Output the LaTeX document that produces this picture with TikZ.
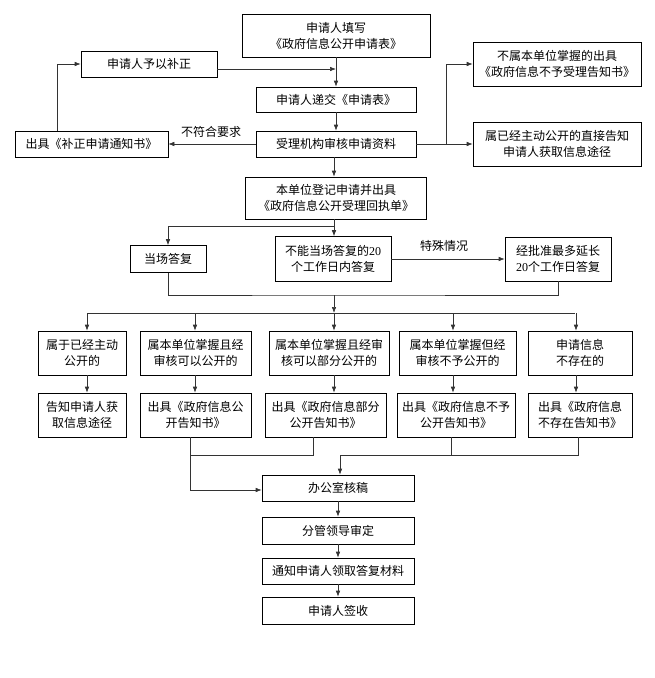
\documentclass[tikz,border=0pt]{standalone}
\usepackage{fontspec}
\setmainfont{Noto Sans CJK SC}
\newfontfamily\numfont{Liberation Serif}
\usetikzlibrary{arrows.meta}
\tikzset{%
  >={Latex[width=4.5pt,length=6pt]},
            base/.style = {rectangle, draw=black, line width=0.6pt, inner sep=1pt,
                           text centered, align=center,
                           font=\fontsize{12pt}{16pt}\selectfont},
  box1/.style = {base, minimum height=26pt},
  box2/.style = {base, minimum height=44pt},
  line/.style = {draw=black!80, line width=0.6pt},
  note/.style = {font=\fontsize{12pt}{14pt}\selectfont},
}

\begin{document}
\begin{tikzpicture}[x=1pt, y=-1pt]
  \useasboundingbox (0,0) rectangle (654,678);

  \node (onFill)     [box2, minimum width=188pt, minimum height=43pt] at (336,35.5)
  {申请人填写\\《政府信息公开申请表》};
  \node (onSupply)   [box1, minimum width=136pt]  at (149,64)    {申请人予以补正};
  \node (onSubmit)   [box1, minimum width=160pt, minimum height=25pt] at (336,99.5) {申请人递交《申请表》};
  \node (onCheck)    [box1, minimum width=160pt]  at (336,144)   {受理机构审核申请资料};
  \node (onNotice)   [box1, minimum width=153pt]  at (91.5,144)  {出具《补正申请通知书》};
  \node (onRefuse)   [box2, minimum width=168pt]  at (557,64)
  {不属本单位掌握的出具\\《政府信息不予受理告知书》};
  \node (onPublic)   [box2, minimum width=168pt]  at (557,144)
  {属已经主动公开的直接告知\\申请人获取信息途径};
  \node (onRegister) [box2, minimum width=181pt, minimum height=42pt] at (336,198)
  {本单位登记申请并出具\\《政府信息公开受理回执单》};

  \node (onSpot)     [box1, minimum width=76pt, minimum height=27pt] at (168,259) {当场答复};
  \node (onDelay)    [box2, minimum width=116pt, minimum height=45pt] at (333,259)
  {不能当场答复的{\numfont 20}\\个工作日内答复};
  \node (onExtend)   [box2, minimum width=106pt]  at (558,259)
  {经批准最多延长\\{\numfont 20}个工作日答复};

  \node (onA1) [box2, minimum width=88pt]  at (82,353)    {属于已经主动\\公开的};
  \node (onA2) [box2, minimum width=111pt] at (195.5,353) {属本单位掌握且经\\审核可以公开的};
  \node (onA3) [box2, minimum width=120pt] at (329,353)   {属本单位掌握且经审\\核可以部分公开的};
  \node (onA4) [box2, minimum width=117pt] at (457.5,353) {属本单位掌握但经\\审核不予公开的};
  \node (onA5) [box2, minimum width=104pt] at (580,353)   {申请信息\\不存在的};

  \node (onB1) [box2, minimum width=88pt]  at (82,415)    {告知申请人获\\取信息途径};
  \node (onB2) [box2, minimum width=111pt] at (195.5,415) {出具《政府信息公\\开告知书》};
  \node (onB3) [box2, minimum width=121pt] at (325.5,415) {出具《政府信息部分\\公开告知书》};
  \node (onB4) [box2, minimum width=118pt] at (456,415)   {出具《政府信息不予\\公开告知书》};
  \node (onB5) [box2, minimum width=104pt] at (580,415)   {出具《政府信息\\不存在告知书》};

  \node (onOffice)  [box1, minimum width=152pt] at (338,488)   {办公室核稿};
  \node (onLeader)  [box1, minimum width=152pt, minimum height=27pt] at (338,530.5) {分管领导审定};
  \node (onInform)  [box1, minimum width=152pt] at (338,571)   {通知申请人领取答复材料};
  \node (onSign)    [box1, minimum width=152pt, minimum height=27pt] at (338,610.5) {申请人签收};

  \node (onNoFit)   [note] at (211,132) {不符合要求};
  \node (onSpecial) [note] at (444,246) {特殊情况};

  \coordinate (onSplitR) at (446,144);
  \coordinate (onSplitA) at (334,226);
  \coordinate (onJoinA)  at (334,295);
  \coordinate (onSplitB) at (334,313);
  \coordinate (onJoinR)  at (340,455);

  \draw[line,->] (onFill) -- (onSubmit);
  \draw[line,->] ([yshift=-5pt]onSupply.east) -- ([yshift=-5pt]onSupply.east -| onFill.south);
  \draw[line,->] (onSubmit) -- (onCheck);
  \draw[line,->] (onCheck) -- (onNotice);
  \draw[line,->] ([xshift=-34.5pt]onNotice.north) |- (onSupply.west);
  \draw[line]    (onCheck.east) -- (onSplitR);
  \draw[line,->] (onSplitR) |- (onRefuse.west);
  \draw[line,->] (onSplitR) -- (onPublic.west);
  \draw[line,->] (onCheck.south -| onSplitA) -- (onRegister.north -| onSplitA);

  \draw[line]    (onRegister.south -| onSplitA) -- (onSplitA);
  \draw[line,->] (onSplitA) -| (onSpot.north);
  \draw[line,->] (onSplitA) -- (onSplitA |- onDelay.north);
  \draw[line,->] (onDelay) -- (onExtend);
  \draw[line]    (onSpot.south) |- (onJoinA) -| (onExtend.south);
  \draw[line,->] (onJoinA) -- (onSplitB);

  \draw[line] ([xshift=5pt]onA1.north |- onSplitB) -- ([xshift=-5pt]onA5.north |- onSplitB);
  \foreach \n/\s in {1/5, 2/-0.5, 3/5, 4/-4.5, 5/-4} {
    \draw[line,->] ([xshift=\s pt]onA\n.north |- onSplitB) -- ([xshift=\s pt]onA\n.north);
    \draw[line,->] ([xshift=\s pt]onA\n.south) -- ([xshift=\s pt]onA\n.south |- onB\n.north);
  }

  \draw[line]    ([xshift=-12.5pt]onB3.south) -- ++(0,18) -| ([xshift=-5pt]onB2.south);
  \draw[line,->] ([xshift=-5pt]onB2.south) |- ([yshift=-2pt]onOffice.west);
  \draw[line]    ([xshift=-5pt]onB4.south) -- ([xshift=-5pt]onB4.south |- onJoinR);
  \draw[line,->] ([xshift=-2pt]onB5.south) |- (onJoinR) -- (onJoinR |- onOffice.north);

  \draw[line,->] (onOffice) -- (onLeader);
  \draw[line,->] (onLeader) -- (onInform);
  \draw[line,->] (onInform) -- (onSign);
\end{tikzpicture}
\end{document}
